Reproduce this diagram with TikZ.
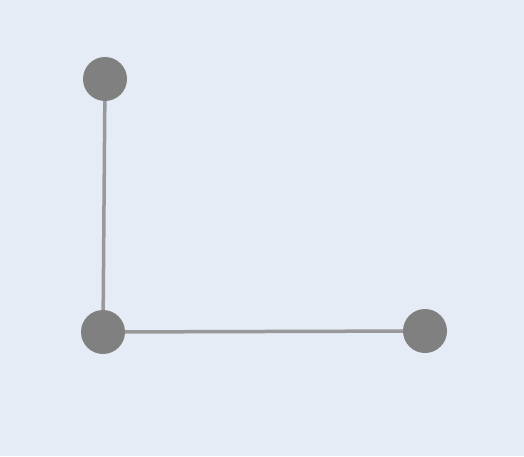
\documentclass[tikz,border=0pt]{standalone}
\usepackage{tikz}
\definecolor{bgblue}{HTML}{E6ECF5}
\definecolor{dotgray}{HTML}{808080}
\definecolor{linegray}{HTML}{999999}
\tikzset{
    dot/.style={circle, fill=dotgray, inner sep=0pt, minimum size=44pt},
    edge/.style={linegray, line width=3.5pt}
}
\begin{document}
\begin{tikzpicture}[x=1pt,y=1pt]

    \fill[bgblue] (0,0) rectangle (524,456);
    \useasboundingbox (0,0) rectangle (524,456);

    \node[dot] (top) at (105,377) {};
    \node[dot] (corner) at (103,124) {};
    \node[dot] (right) at (425,125) {};

    \draw[edge] (top) -- (corner);
    \draw[edge] (corner) -- (right);

\end{tikzpicture}
\end{document}
